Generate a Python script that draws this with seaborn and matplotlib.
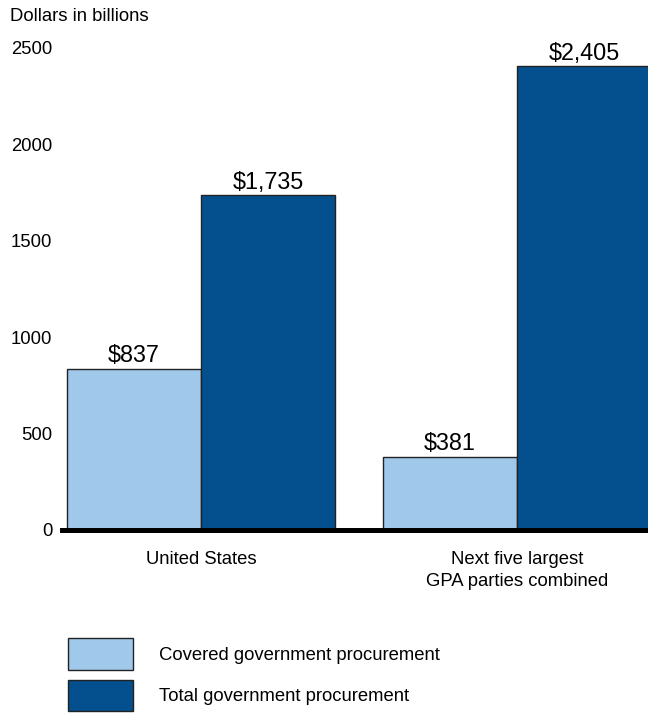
import pandas as pd
import matplotlib.pyplot as plt
import seaborn as sns

# Values (dollars in billions)
groups = ["United States", "Next five largest\nGPA parties combined"]
series = ["Covered government procurement", "Total government procurement"]
covered = [837, 381]
total = [1735, 2405]
ticks = [0, 500, 1000, 1500, 2000, 2500]
colors = ["#A0C8EA", "#04508F"]

df = pd.DataFrame({
    "group": groups * 2,
    "series": [series[0]] * 2 + [series[1]] * 2,
    "value": covered + total,
})

sns.set_style("white")
plt.rcParams["font.family"] = ["Liberation Sans", "DejaVu Sans"]
plt.rcParams["text.color"] = "black"
plt.rcParams["xtick.color"] = "black"
plt.rcParams["ytick.color"] = "black"

fig = plt.figure(figsize=(6.48, 7.13), dpi=100)
ax = fig.add_axes([62 / 648, 183 / 713, 1 - 62 / 648, 482 / 713])

sns.barplot(data=df, x="group", y="value", hue="series", palette=colors,
            width=0.85, edgecolor="#222222", linewidth=1, saturation=1,
            ax=ax)

# value labels above bars
for cont in ax.containers:
    ax.bar_label(cont, labels=[f"${v:,.0f}" for v in cont.datavalues],
                 fontsize=16.8, padding=1, color="black")

ax.set_ylim(0, 2500)
ax.set_xlim(-0.44, 1.415)
ax.set_yticks(ticks)
ax.set_yticklabels([str(t) for t in ticks])
ax.set_xlabel("")
ax.set_ylabel("")
ax.tick_params(axis="y", length=0, pad=7, labelsize=13.3)
ax.tick_params(axis="x", length=0, pad=15, labelsize=13.3)
for lab in ax.get_xticklabels():
    lab.set_linespacing(1.4)

for s in ["left", "right", "top"]:
    ax.spines[s].set_visible(False)
ax.spines["bottom"].set_linewidth(3.6)
ax.spines["bottom"].set_color("black")

fig.text(10 / 648, 1 - 8 / 713, "Dollars in billions", fontsize=13.3,
         ha="left", va="top")

handles, labels = ax.get_legend_handles_labels()
ax.get_legend().remove()
fig.legend(handles, labels, loc="upper left",
           bbox_to_anchor=(68 / 648, 1 - 638 / 713), frameon=False,
           fontsize=13.3, handlelength=3.5, handleheight=2.25,
           labelspacing=0.55, handletextpad=1.45, borderpad=0,
           borderaxespad=0)

fig.savefig("out.png", dpi=100)
